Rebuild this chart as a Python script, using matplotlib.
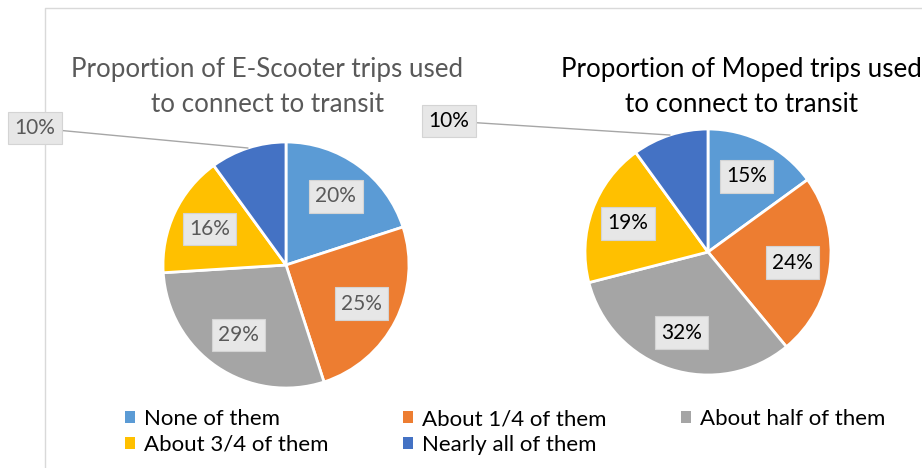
import numpy as np
import matplotlib.pyplot as plt
from matplotlib.patches import Patch

plt.rcParams['font.family'] = ['Lato', 'DejaVu Sans']

categories = ['None of them', 'About 1/4 of them', 'About half of them',
              'About 3/4 of them', 'Nearly all of them']
scooter = [20, 25, 29, 16, 10]
moped = [15, 24, 32, 19, 10]
colors = ['#5B9BD5', '#ED7D31', '#A5A5A5', '#FFC000', '#4472C4']

W, H = 922, 468
fig = plt.figure(figsize=(9.22, 4.68), dpi=100)
ax = fig.add_axes([0, 0, 1, 1])
ax.set_xlim(0, W)
ax.set_ylim(0, H)
ax.set_aspect('equal')
ax.axis('off')

# chart frame
ax.plot([45, 45, W], [0, H - 8, H - 8], color='#D9D9D9', lw=1)

box = dict(boxstyle='square,pad=0.3', facecolor='#E7E7E7', edgecolor='#D4D4D4', lw=0.8)

def draw(values, center, title, tcolor, title_x, out_xy):
    r = 123
    wedges, _, autot = ax.pie(values, colors=colors, startangle=90, counterclock=False,
                              center=center, radius=r, autopct='%d%%', pctdistance=0.69,
                              wedgeprops=dict(edgecolor='white', linewidth=2),
                              textprops=dict(fontsize=15, color=tcolor))
    for t in autot:
        t.set_bbox(box)
    # last slice label goes outside with a leader line
    w = wedges[-1]
    mid = np.deg2rad((w.theta1 + w.theta2) / 2)
    edge = (center[0] + r * np.cos(mid), center[1] + r * np.sin(mid))
    autot[-1].set_visible(False)
    ax.annotate(autot[-1].get_text(), xy=edge, xytext=out_xy, fontsize=15, color=tcolor,
                ha='center', va='center', bbox=box,
                arrowprops=dict(arrowstyle='-', color='#A6A6A6', lw=1, shrinkA=0, shrinkB=0))
    for line, y in zip(title, [70, 105]):
        ax.text(title_x, H - y, line, ha='center', va='center', fontsize=18.7, color=tcolor)

draw(scooter, (286, H - 265), ['Proportion of E-Scooter trips used', 'to connect to transit'],
     '#595959', 267, (35, H - 128))
draw(moped, (708, H - 252), ['Proportion of Moped trips used', 'to connect to transit'],
     'black', 741, (449, H - 121))

order = [0, 3, 1, 4, 2]
handles = [Patch(facecolor=colors[i]) for i in order]
labels = [categories[i] for i in order]
fig.legend(handles, labels, ncol=3, loc='upper left', bbox_to_anchor=(105 / W, 1 - 389 / H),
           frameon=False, fontsize=16, handlelength=0.45, handleheight=0.45, handletextpad=0.4,
           columnspacing=3.35, labelspacing=0.25)

ax.set_xlim(0, W)
ax.set_ylim(0, H)
fig.savefig('out.png', dpi=100)
